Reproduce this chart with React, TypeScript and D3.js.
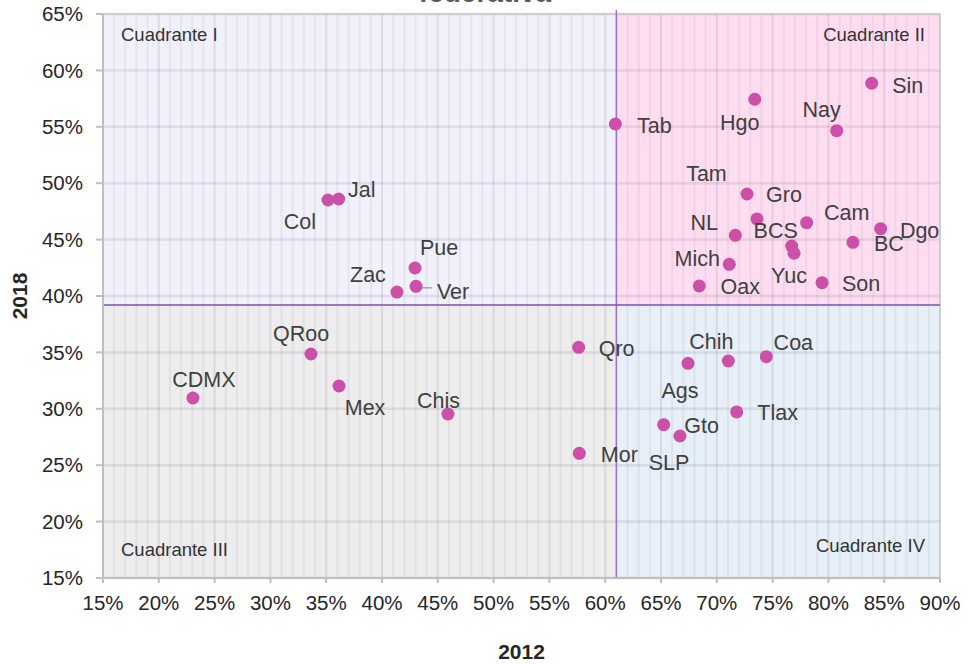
import React from "react";
import * as d3 from "d3";

// ---- data ----
const states = [
  "CDMX", "QRoo", "Mex", "Chis", "Col", "Jal", "Pue", "Zac", "Ver",
  "Tab", "Hgo", "Nay", "Sin", "Gro", "Tam", "NL", "Cam", "Dgo", "BC", "BCS", "Yuc", "Mich", "Oax", "Son",
  "Qro", "Mor", "Ags", "Chih", "Coa", "Tlax", "Gto", "SLP",
];
const values2012 = [
  23.06, 33.64, 36.15, 45.91, 35.16, 36.12, 42.96, 41.34, 43.05,
  60.91, 73.4, 80.74, 83.88, 72.71, 73.6, 71.66, 78.05, 84.68, 82.2, 76.71, 76.92, 71.12, 68.43, 79.43,
  57.62, 57.68, 67.42, 71.03, 74.44, 71.78, 65.24, 66.7,
];
const values2018 = [
  30.96, 34.86, 32.02, 29.54, 48.51, 48.6, 42.48, 40.35, 40.86,
  55.25, 57.44, 54.66, 58.86, 49.04, 46.83, 45.38, 46.5, 45.97, 44.76, 44.43, 43.79, 42.81, 40.89, 41.18,
  35.45, 26.05, 34.03, 34.24, 34.62, 29.72, 28.59, 27.59,
];
const xTicks = [15, 20, 25, 30, 35, 40, 45, 50, 55, 60, 65, 70, 75, 80, 85, 90];
const yTicks = [15, 20, 25, 30, 35, 40, 45, 50, 55, 60, 65];
const xSplit = 61.0;
const ySplit = 39.2;
const quadrantNames = ["Cuadrante I", "Cuadrante II", "Cuadrante III", "Cuadrante IV"];
const xTitle = "2012";
const yTitle = "2018";
const chartTitle = "federativa";

// ---- layout (label placement offsets in px) ----
const labelOffset: Record<string, [number, number]> = {
  CDMX: [11, -18], QRoo: [-10, -21], Mex: [26, 21], Chis: [-9.5, -14],
  Col: [-28, 21], Jal: [23, -10], Pue: [24, -21], Zac: [-29, -18], Ver: [37, 5],
  Tab: [39, 1], Hgo: [-15, 23], Nay: [-15, -21], Sin: [36, 2],
  Gro: [37, 0], Tam: [-50.5, -45], NL: [-31, -13], Cam: [40, -10], Dgo: [39, 2],
  BC: [36, 1], BCS: [-16, -16], Yuc: [-5, 22], Mich: [-32, -6], Oax: [41, 1], Son: [39, 1],
  Qro: [38, 1], Mor: [40, 1], Ags: [-8, 27], Chih: [-17, -19], Coa: [27, -14],
  Tlax: [41, 1], Gto: [38, 1], SLP: [-11, 26],
};
const leaderLines = ["Ver"];

const W = 968, H = 665;
const L = 103, R = 940, T = 14, B = 578;
const FONT = "'Liberation Sans', Arial, sans-serif";

export default function App() {
  const x = d3.scaleLinear().domain([15, 90]).range([L, R]);
  const y = d3.scaleLinear().domain([15, 65]).range([B, T]);
  const xs = x(xSplit), ys = y(ySplit);
  const minorX = d3.range(15, 91, 1).filter((v) => v % 5 !== 0);
  const pct = (v: number) => `${v}%`;

  const quads = [
    { x0: L, x1: xs, y0: T, y1: ys, fill: "#F1F1FC" },
    { x0: xs, x1: R, y0: T, y1: ys, fill: "#FFDDF0" },
    { x0: L, x1: xs, y0: ys, y1: B, fill: "#EDEDED" },
    { x0: xs, x1: R, y0: ys, y1: B, fill: "#E7EFF8" },
  ];

  return (
    <svg width={W} height={H} style={{ position: "absolute", left: 0, top: 0, background: "#fff" }} fontFamily={FONT}>
      <text x={485} y={1.5} textAnchor="middle" fontSize={28} fontWeight="bold" fill="#595959">{chartTitle}</text>
      {quads.map((q, i) => (
        <rect key={i} x={q.x0} y={q.y0} width={q.x1 - q.x0} height={q.y1 - q.y0} fill={q.fill} />
      ))}
      {minorX.map((v) => (
        <line key={"mx" + v} x1={x(v)} x2={x(v)} y1={T} y2={B} stroke="#404060" strokeOpacity={0.07} strokeWidth={2} />
      ))}
      {xTicks.map((v) => (
        <line key={"Mx" + v} x1={x(v)} x2={x(v)} y1={T} y2={B} stroke="#404060" strokeOpacity={0.12} strokeWidth={2} />
      ))}
      {yTicks.map((v) => (
        <line key={"My" + v} x1={L} x2={R} y1={y(v)} y2={y(v)} stroke="#404060" strokeOpacity={0.11} strokeWidth={2.5} />
      ))}
      {/* border */}
      <rect x={L} y={T} width={R - L} height={B - T} fill="none" stroke="#C8C8C8" strokeWidth={1.5} />
      {/* quadrant dividers */}
      <line x1={xs} x2={xs} y1={T - 4} y2={B} stroke="#A070D0" strokeWidth={1.5} />
      <line x1={L} x2={R} y1={ys} y2={ys} stroke="#7A4FB0" strokeWidth={1.5} />
      {/* axes */}
      <line x1={L} x2={L} y1={T} y2={B} stroke="#BFBFBF" strokeWidth={2} />
      <line x1={L} x2={R} y1={B} y2={B} stroke="#BFBFBF" strokeWidth={2} />
      {yTicks.map((v) => (
        <g key={"yt" + v}>
          <line x1={L - 7} x2={L} y1={y(v)} y2={y(v)} stroke="#BFBFBF" strokeWidth={2} />
          <text x={L - 20} y={y(v)} dy="0.35em" textAnchor="end" fontSize={20.5} fill="#262626">{pct(v)}</text>
        </g>
      ))}
      {xTicks.map((v) => (
        <g key={"xt" + v}>
          <line x1={x(v)} x2={x(v)} y1={B} y2={B + 5} stroke="#BFBFBF" strokeWidth={2} />
          <text x={x(v)} y={603} dy="0.35em" textAnchor="middle" fontSize={20.5} fill="#262626">{pct(v)}</text>
        </g>
      ))}
      <text x={(L + R) / 2} y={652} dy="0.35em" textAnchor="middle" fontSize={21} fontWeight="bold" fill="#262626">{xTitle}</text>
      <text transform={`translate(20,${(T + B) / 2}) rotate(-90)`} dy="0.35em" textAnchor="middle" fontSize={21} fontWeight="bold" fill="#262626">{yTitle}</text>
      {/* quadrant labels */}
      <text x={121} y={35} dy="0.35em" fontSize={18.5} fill="#333">{quadrantNames[0]}</text>
      <text x={925} y={35} dy="0.35em" textAnchor="end" fontSize={18.5} fill="#333">{quadrantNames[1]}</text>
      <text x={121} y={550} dy="0.35em" fontSize={18.5} fill="#333">{quadrantNames[2]}</text>
      <text x={925} y={546} dy="0.35em" textAnchor="end" fontSize={18.5} fill="#333">{quadrantNames[3]}</text>
      {/* points */}
      {states.map((s, i) => {
        const cx = x(values2012[i]), cy = y(values2018[i]);
        const [dx, dy] = labelOffset[s] || [30, 0];
        return (
          <g key={s}>
            {leaderLines.includes(s) && (
              <line x1={cx + 3} y1={cy + 1.5} x2={cx + dx - 21} y2={cy + 1.5} stroke="#A6A6A6" strokeWidth={1.5} />
            )}
            <circle cx={cx} cy={cy} r={6.5} fill="#CC4FA8" />
            <text x={cx + dx} y={cy + dy} dy="0.35em" textAnchor="middle" fontSize={21.5} fill="#404040">{s}</text>
          </g>
        );
      })}
    </svg>
  );
}
